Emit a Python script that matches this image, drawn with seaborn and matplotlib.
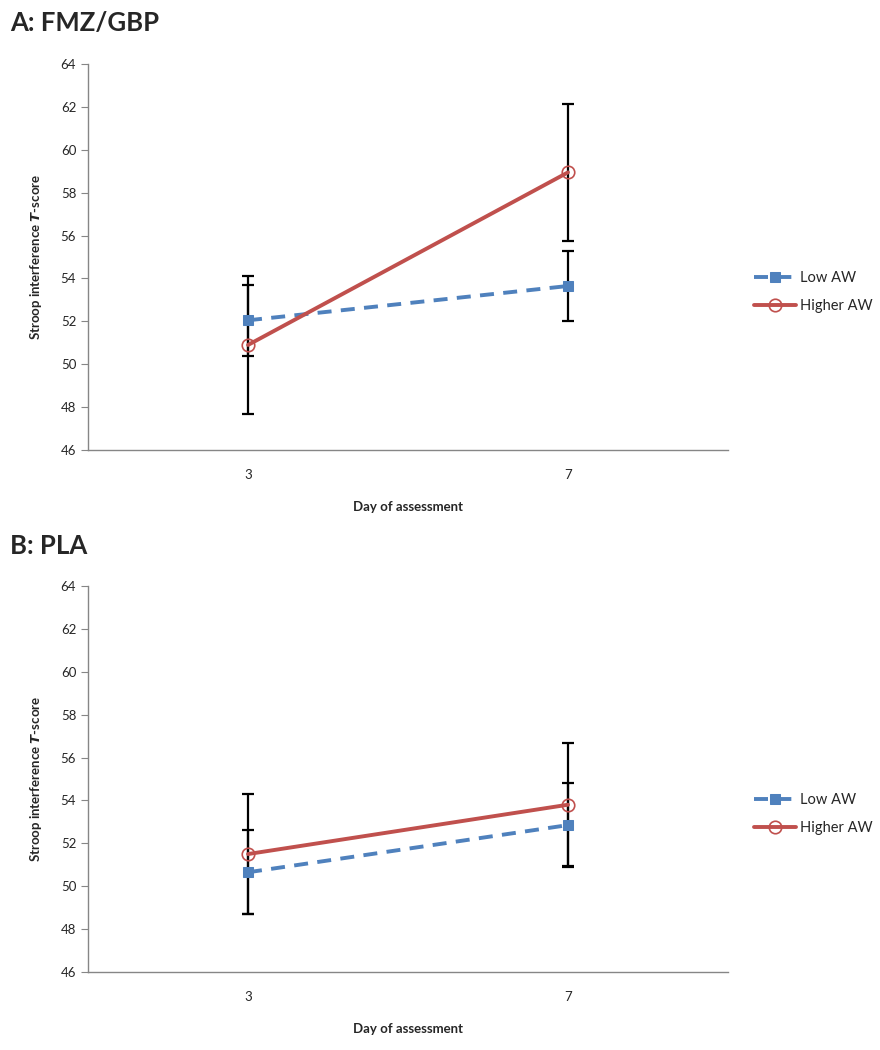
import pandas as pd
import matplotlib
matplotlib.use('Agg')
import matplotlib.pyplot as plt
import seaborn as sns
import numpy as np

# Values
days = ['3', '7']
groups = ['Low AW', 'Higher AW']

fmz_low = [52.05, 53.65]
fmz_low_err = [1.65, 1.62]
fmz_high = [50.9, 58.95]
fmz_high_err = [3.2, 3.18]

pla_low = [50.65, 52.85]
pla_low_err = [1.95, 1.97]
pla_high = [51.5, 53.8]
pla_high_err = [2.8, 2.87]

panel_titles = ['A: FMZ/GBP', 'B: PLA']
y_ticks = [46, 48, 50, 52, 54, 56, 58, 60, 62, 64]

sns.set_style('white')
plt.rcParams['font.family'] = ['Lato', 'DejaVu Sans']

colors = {'Low AW': '#4F81BD', 'Higher AW': '#C0504D'}


def make_frame(low, low_err, high, high_err):
    rows = []
    for i, d in enumerate(days):
        rows.append({'day': d, 'pos': i + 1, 'group': 'Low AW', 'score': low[i], 'err': low_err[i]})
        rows.append({'day': d, 'pos': i + 1, 'group': 'Higher AW', 'score': high[i], 'err': high_err[i]})
    return pd.DataFrame(rows)


panels = [make_frame(fmz_low, fmz_low_err, fmz_high, fmz_high_err),
          make_frame(pla_low, pla_low_err, pla_high, pla_high_err)]

fig = plt.figure(figsize=(8.8, 10.5), dpi=100)
axes_pos = [[0.1, 0.5714, 0.7273, 0.3676], [0.1, 0.0743, 0.7273, 0.3676]]
title_y = [0.978, 0.480]

for k, df in enumerate(panels):
    ax = fig.add_axes(axes_pos[k])

    # error bars first
    for g in groups:
        sub = df[df['group'] == g]
        ax.errorbar(sub['pos'], sub['score'], yerr=sub['err'], fmt='none',
                    ecolor='black', elinewidth=1.6, capsize=4, capthick=1.6, zorder=2)

    sns.lineplot(data=df[df['group'] == 'Low AW'], x='pos', y='score', ax=ax,
                 color=colors['Low AW'], linewidth=2.8, dashes=False, marker='s',
                 markersize=7, markeredgecolor=colors['Low AW'], label='Low AW',
                 zorder=3, errorbar=None)
    ax.lines[-1].set_dashes([3.6, 2.4])
    sns.lineplot(data=df[df['group'] == 'Higher AW'], x='pos', y='score', ax=ax,
                 color=colors['Higher AW'], linewidth=2.8, marker='o', markersize=9,
                 markerfacecolor='none', markeredgecolor=colors['Higher AW'],
                 markeredgewidth=1.2, label='Higher AW', zorder=4, errorbar=None)

    ax.set_xlim(0.5, 2.5)
    ax.set_ylim(46, 64)
    ax.set_yticks(y_ticks)
    ax.set_yticklabels([str(t) for t in y_ticks], fontsize=9.5)
    ax.set_xticks([1, 2])
    ax.set_xticklabels(days, fontsize=9.5)
    ax.set_xticks([0.5, 1.5, 2.5], minor=True)
    ax.tick_params(axis='x', which='major', length=0, pad=14)
    ax.tick_params(axis='x', which='minor', length=5, color='#868686', direction='out')
    ax.tick_params(axis='y', length=5, color='#868686', direction='out', left=True)

    for s in ['top', 'right']:
        ax.spines[s].set_visible(False)
    for s in ['left', 'bottom']:
        ax.spines[s].set_color('#868686')
        ax.spines[s].set_linewidth(1.0)

    ax.set_xlabel('Day of assessment', fontsize=9.5, fontweight='bold', labelpad=14)
    ax.set_ylabel('Stroop interference $\\mathbfit{T}$-score', fontsize=9.5,
                  fontweight='bold', labelpad=12)

    ax.legend(loc='center left', bbox_to_anchor=(1.04, 0.41), frameon=False,
              fontsize=10.5, handlelength=2.9, handletextpad=0.3, labelspacing=0.95,
              borderaxespad=0, borderpad=0)

    fig.text(0.011, title_y[k], panel_titles[k], fontsize=18.5, fontweight='bold',
             va='center', ha='left')

fig.savefig('out.png', dpi=100)
